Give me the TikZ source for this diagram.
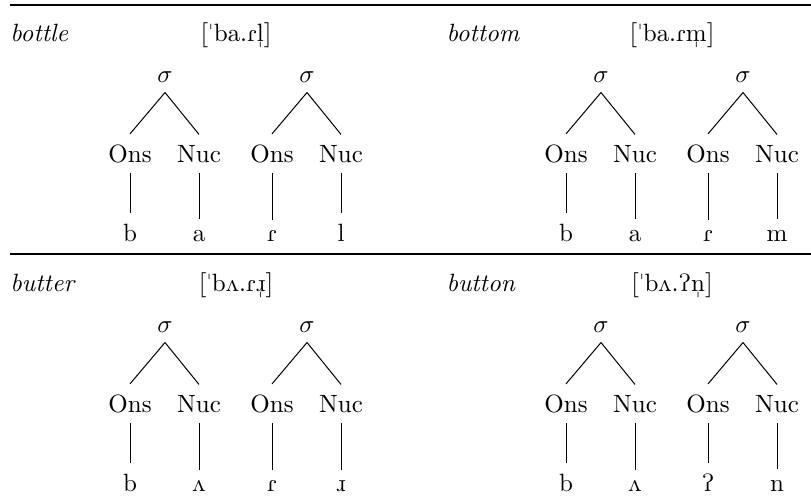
\documentclass[tikz,border=0pt]{standalone}
\usepackage{tipa}
\tikzset{
  lab/.style={inner sep=4pt, anchor=base},
  branch/.style={line width=0.4pt},
  toprulestyle/.style={line width=0.8pt},
  midrulestyle/.style={line width=0.5pt},
}
% #1 prefix, #2 x offset, #3 y offset, #4-#7 leaves
\newcommand\sylpair[7]{%
  \node[lab] (#1s1) at (#2+165,#3+82) {$\sigma$};
  \node[lab] (#1s2) at (#2+307,#3+82) {$\sigma$};
  \node[lab] (#1o1) at (#2+130,#3+162) {Ons};
  \node[lab] (#1n1) at (#2+199,#3+162) {Nuc};
  \node[lab] (#1o2) at (#2+272,#3+162) {Ons};
  \node[lab] (#1n2) at (#2+341,#3+162) {Nuc};
  \node[lab] (#1a) at (#2+130,#3+241) {#4};
  \node[lab] (#1b) at (#2+199,#3+241) {#5};
  \node[lab] (#1c) at (#2+272,#3+241) {#6};
  \node[lab] (#1d) at (#2+341,#3+241) {#7};
  \draw[branch] (#1s1.south) -- (#1o1.north);
  \draw[branch] (#1s1.south) -- (#1n1.north);
  \draw[branch] (#1s2.south) -- (#1o2.north);
  \draw[branch] (#1s2.south) -- (#1n2.north);
  \draw[branch] (#1o1.south) -- (#1a.north);
  \draw[branch] (#1n1.south) -- (#1b.north);
  \draw[branch] (#1o2.south) -- (#1c.north);
  \draw[branch] (#1n2.south) -- (#1d.north);
}
\begin{document}
\begin{tikzpicture}[x=0.4pt,y=-0.4pt]
\useasboundingbox (0,0) rectangle (811,496);
% rules
\coordinate (tl) at (10,5);
\coordinate (tr) at (811,5);
\coordinate (ml) at (10,254);
\coordinate (mr) at (811,254);
\draw[toprulestyle] (tl) -- (tr);
\draw[midrulestyle] (ml) -- (mr);
% titles
\node[lab, anchor=base west, inner sep=0pt] (w1) at (10,41) {\textit{bottle}};
\node[lab, inner sep=0pt] (p1) at (236,41) {\textipa{["ba.R\s{l}]}};
\node[lab, anchor=base west, inner sep=0pt] (w2) at (446,41) {\textit{bottom}};
\node[lab, inner sep=0pt] (p2) at (672,41) {\textipa{["ba.R\s{m}]}};
\node[lab, anchor=base west, inner sep=0pt] (w3) at (10,291) {\textit{butter}};
\node[lab, inner sep=0pt] (p3) at (236,291) {\textipa{["b2.R\s{\*r}]}};
\node[lab, anchor=base west, inner sep=0pt] (w4) at (446,291) {\textit{button}};
\node[lab, inner sep=0pt] (p4) at (672,291) {\textipa{["b2.P\s{n}]}};
% trees
\sylpair{A}{0}{0}{b}{a}{\textipa{R}}{l}
\sylpair{B}{436}{0}{b}{a}{\textipa{R}}{m}
\sylpair{C}{0}{250}{b}{\textipa{2}}{\textipa{R}}{\textipa{\*r}}
\sylpair{D}{436}{250}{b}{\textipa{2}}{\textipa{P}}{n}
\end{tikzpicture}
\end{document}
